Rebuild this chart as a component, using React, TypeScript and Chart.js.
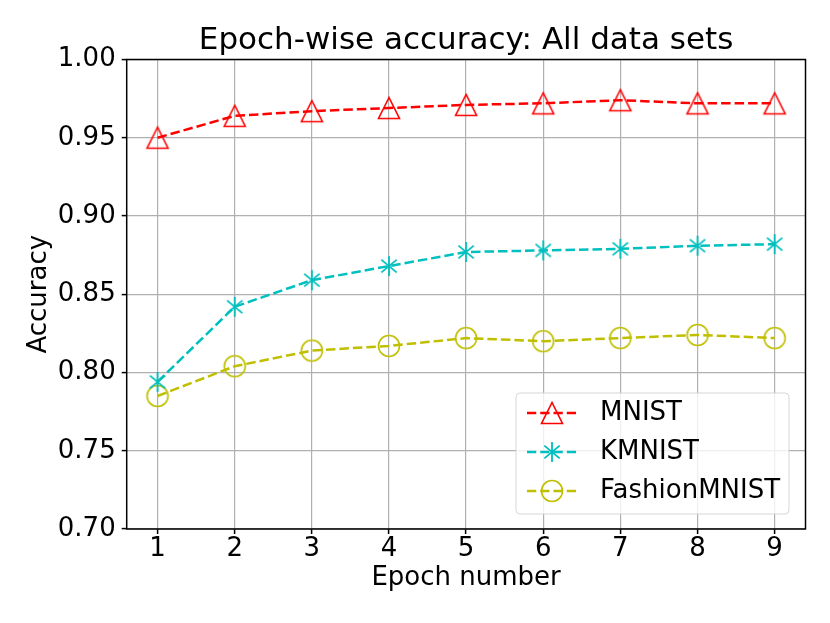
import React, { useEffect, useRef } from "react";
import { Chart, registerables } from "chart.js";

Chart.register(...registerables);

const epochs = [1, 2, 3, 4, 5, 6, 7, 8, 9];
const mnist = [0.950, 0.964, 0.967, 0.969, 0.971, 0.972, 0.974, 0.972, 0.972];
const kmnist = [0.794, 0.842, 0.859, 0.868, 0.877, 0.878, 0.879, 0.881, 0.882];
const fashion = [0.785, 0.804, 0.814, 0.817, 0.822, 0.820, 0.822, 0.824, 0.822];
const yTicks = [0.7, 0.75, 0.8, 0.85, 0.9, 0.95, 1.0];

const FONT = "'DejaVu Sans', sans-serif";

// matplotlib-like markers drawn on small canvases
function makeMarker(kind: string, color: string) {
    const s = 14;
    const c = document.createElement("canvas");
    c.width = 2 * s;
    c.height = 2 * s;
    const g = c.getContext("2d")!;
    g.translate(s, s);
    g.strokeStyle = color;
    g.lineWidth = 1.6;
    g.beginPath();
    if (kind === "tri") {
        g.moveTo(0, -10.5);
        g.lineTo(-10.5, 10.5);
        g.lineTo(10.5, 10.5);
        g.closePath();
    } else if (kind === "star") {
        g.lineWidth = 1.8;
        const r = 10;
        for (const a of [90, 40, -40]) {
            const t = (a * Math.PI) / 180;
            g.moveTo(-Math.cos(t) * r, -Math.sin(t) * r);
            g.lineTo(Math.cos(t) * r, Math.sin(t) * r);
        }
    } else {
        g.arc(0, 0, 10.5, 0, Math.PI * 2);
    }
    g.stroke();
    return c;
}

const frameAndLegend = {
    id: "frameAndLegend",
    afterDatasetsDraw(chart: any) {
        const { ctx, chartArea } = chart;
        ctx.save();
        // axes frame
        ctx.strokeStyle = "#000";
        ctx.lineWidth = 1.5;
        ctx.strokeRect(chartArea.left, chartArea.top, chartArea.right - chartArea.left, chartArea.bottom - chartArea.top);

        // legend box
        const w = 273;
        const h = 121;
        const x = chartArea.right - 16.5 - w;
        const y = chartArea.bottom - 15 - h;
        const r = 4;
        ctx.beginPath();
        ctx.moveTo(x + r, y);
        ctx.arcTo(x + w, y, x + w, y + h, r);
        ctx.arcTo(x + w, y + h, x, y + h, r);
        ctx.arcTo(x, y + h, x, y, r);
        ctx.arcTo(x, y, x + w, y, r);
        ctx.closePath();
        ctx.fillStyle = "rgba(255,255,255,0.8)";
        ctx.fill();
        ctx.strokeStyle = "rgba(204,204,204,0.8)";
        ctx.lineWidth = 1;
        ctx.stroke();

        chart.data.datasets.forEach((ds: any, i: number) => {
            const cy = y + 20 + i * 39;
            ctx.setLineDash([9.25, 4]);
            ctx.strokeStyle = ds.borderColor;
            ctx.lineWidth = 2.5;
            ctx.beginPath();
            ctx.moveTo(x + 11, cy);
            ctx.lineTo(x + 62, cy);
            ctx.stroke();
            ctx.setLineDash([]);
            const m = ds.pointStyle;
            ctx.drawImage(m, x + 36 - m.width / 2, cy - m.height / 2);
            ctx.fillStyle = "#000";
            ctx.font = `26px ${FONT}`;
            ctx.textBaseline = "middle";
            ctx.textAlign = "left";
            ctx.fillText(ds.label, x + 84, cy);
        });
        ctx.restore();
    },
};

export default function App() {
    const chartRef = useRef<HTMLCanvasElement>(null);

    useEffect(() => {
        document.body.style.margin = "0";
        const mk = (vals: number[]) => vals.map((v, i) => ({ x: epochs[i], y: v }));
        const series = [
            { label: "MNIST", data: mnist, color: "#ff0000", marker: "tri" },
            { label: "KMNIST", data: kmnist, color: "#00bfbf", marker: "star" },
            { label: "FashionMNIST", data: fashion, color: "#bfbf00", marker: "circle" },
        ];

        const chartInstance = new Chart(chartRef.current!, {
            type: "line",
            data: {
                datasets: series.map((s) => ({
                    label: s.label,
                    data: mk(s.data),
                    borderColor: s.color,
                    borderWidth: 2.5,
                    borderDash: [9.5, 4],
                    fill: false,
                    tension: 0,
                    pointStyle: makeMarker(s.marker, s.color) as any,
                    pointRadius: 10,
                })),
            },
            options: {
                animation: false,
                responsive: true,
                maintainAspectRatio: false,
                layout: { padding: { left: 0, right: 24.5, top: 0, bottom: 0 } },
                font: { family: FONT },
                plugins: {
                    legend: { display: false },
                    tooltip: { enabled: false },
                    title: {
                        display: true,
                        text: "Epoch-wise accuracy: All data sets",
                        color: "#000",
                        fullSize: false,
                        font: { family: FONT, size: 31, weight: "normal", lineHeight: 1.2 },
                        padding: { top: 22, bottom: 0.3 },
                    },
                },
                scales: {
                    x: {
                        type: "linear",
                        min: 0.6,
                        max: 9.4,
                        afterBuildTicks: (scale: any) => {
                            scale.ticks = epochs.map((v) => ({ value: v }));
                        },
                        afterFit: (scale: any) => {
                            scale.height = 94;
                        },
                        ticks: {
                            color: "#000",
                            font: { family: FONT, size: 26 },
                            padding: 0,
                            maxRotation: 0,
                            callback: (v: any) => String(v),
                        },
                        grid: {
                            color: "#b0b0b0",
                            lineWidth: 1.2,
                            drawTicks: true,
                            tickLength: 5,
                            tickColor: "#000",
                            tickWidth: 1.5,
                        },
                        border: { display: false },
                        title: {
                            display: true,
                            text: "Epoch number",
                            color: "#000",
                            font: { family: FONT, size: 26, lineHeight: 1.2 },
                            padding: { top: 0, bottom: 29.4 },
                        },
                    },
                    y: {
                        type: "linear",
                        min: 0.7,
                        max: 1.0,
                        afterBuildTicks: (scale: any) => {
                            scale.ticks = yTicks.map((v) => ({ value: v }));
                        },
                        afterFit: (scale: any) => {
                            scale.width = 126.7;
                        },
                        ticks: {
                            color: "#000",
                            font: { family: FONT, size: 26 },
                            padding: 6,
                            callback: (v: any) => Number(v).toFixed(2),
                        },
                        grid: {
                            color: "#b0b0b0",
                            lineWidth: 1.2,
                            drawTicks: true,
                            tickLength: 5,
                            tickColor: "#000",
                            tickWidth: 1.5,
                        },
                        border: { display: false },
                        title: {
                            display: true,
                            text: "Accuracy",
                            color: "#000",
                            font: { family: FONT, size: 26, lineHeight: 1.2 },
                            padding: { top: 23.4, bottom: 0 },
                        },
                    },
                },
            },
            plugins: [frameAndLegend],
        } as any);

        return () => chartInstance.destroy();
    }, []);

    return (
        <div style={{ position: "relative", width: 830, height: 623 }}>
            <canvas ref={chartRef}></canvas>
        </div>
    );
}
